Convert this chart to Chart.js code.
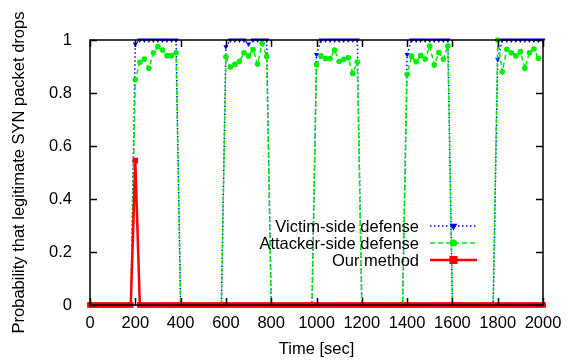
<!DOCTYPE html>
<html lang="en">
<head>
<meta charset="UTF-8">
<title>Legitimate SYN packet drops</title>
<script src="https://cdn.jsdelivr.net/npm/chart.js"></script>
<style>
  html, body { margin: 0; padding: 0; background: #fff; }
  #wrap { width: 576px; height: 360px; }
</style>
</head>
<body>
<div id="wrap"><canvas id="chart" width="576" height="360"></canvas></div>
<script>
// time axis, one sample every 20 s
const times = [
  0, 20, 40, 60, 80, 100, 120, 140, 160, 180,
  200, 220, 240, 260, 280, 300, 320, 340, 360, 380,
  400, 420, 440, 460, 480, 500, 520, 540, 560, 580,
  600, 620, 640, 660, 680, 700, 720, 740, 760, 780,
  800, 820, 840, 860, 880, 900, 920, 940, 960, 980,
  1000, 1020, 1040, 1060, 1080, 1100, 1120, 1140, 1160, 1180,
  1200, 1220, 1240, 1260, 1280, 1300, 1320, 1340, 1360, 1380,
  1400, 1420, 1440, 1460, 1480, 1500, 1520, 1540, 1560, 1580,
  1600, 1620, 1640, 1660, 1680, 1700, 1720, 1740, 1760, 1780,
  1800, 1820, 1840, 1860, 1880, 1900, 1920, 1940, 1960, 1980,
  2000
];

const victimSide = [
  0, 0, 0, 0, 0, 0, 0, 0, 0, 0,
  0.985, 1, 1, 1, 1, 1, 1, 1, 1, 1,
  0, 0, 0, 0, 0, 0, 0, 0, 0, 0,
  0.975, 1, 1, 1, 1, 0.985, 1, 1, 1, 1,
  0, 0, 0, 0, 0, 0, 0, 0, 0, 0,
  0.945, 1, 1, 1, 1, 1, 1, 1, 1, 1,
  0, 0, 0, 0, 0, 0, 0, 0, 0, 0,
  0.945, 1, 1, 1, 1, 1, 1, 1, 1, 1,
  0, 0, 0, 0, 0, 0, 0, 0, 0, 0,
  0.927, 1, 1, 1, 1, 1, 1, 1, 1, 1,
  1
];

const attackerSide = [
  0, 0, 0, 0, 0, 0, 0, 0, 0, 0,
  0.85, 0.916, 0.928, 0.893, 0.952, 0.975, 0.962, 0.941, 0.941, 0.952,
  0, 0, 0, 0, 0, 0, 0, 0, 0, 0,
  0.937, 0.898, 0.908, 0.92, 0.952, 0.94, 0.964, 0.909, 0.987, 0.938,
  0, 0, 0, 0, 0, 0, 0, 0, 0, 0,
  0.907, 0.94, 0.93, 0.93, 0.962, 0.919, 0.927, 0.933, 0.874, 0.917,
  0, 0, 0, 0, 0, 0, 0, 0, 0, 0,
  0.871, 0.939, 0.918, 0.941, 0.928, 0.977, 0.906, 0.953, 0.928, 0.977,
  0, 0, 0, 0, 0, 0, 0, 0, 0, 0,
  1, 0.88, 0.965, 0.952, 0.94, 0.956, 0.893, 0.952, 0.966, 0.931,
  null
];

const ourMethod = [
  0, 0, 0, 0, 0, 0, 0, 0, 0, 0,
  0.545, 0, 0, 0, 0, 0, 0, 0, 0, 0,
  0, 0, 0, 0, 0, 0, 0, 0, 0, 0,
  0, 0, 0, 0, 0, 0, 0, 0, 0, 0,
  0, 0, 0, 0, 0, 0, 0, 0, 0, 0,
  0, 0, 0, 0, 0, 0, 0, 0, 0, 0,
  0, 0, 0, 0, 0, 0, 0, 0, 0, 0,
  0, 0, 0, 0, 0, 0, 0, 0, 0, 0,
  0, 0, 0, 0, 0, 0, 0, 0, 0, 0,
  0, 0, 0, 0, 0, 0, 0, 0, 0, 0,
  0
];

const seriesNames = ['Victim-side defense', 'Attacker-side defense', 'Our method'];

const FONT = 'Liberation Sans, Arial, Helvetica, sans-serif';
const FSIZE = 16.5;

function toPoints(vals) {
  return times.map((t, i) => ({ x: t, y: vals[i] }));
}

// gnuplot style border with inward ticks on all four sides, plus a key in the plot
const gnuplotLook = {
  id: 'gnuplotLook',
  afterDatasetsDraw(chart) {
    const { ctx, chartArea: a, scales: { x, y } } = chart;
    const tl = 7;
    ctx.save();
    ctx.strokeStyle = '#000';
    ctx.lineWidth = 1.5;
    ctx.beginPath();
    x.ticks.forEach(t => {
      const px = Math.round(x.getPixelForValue(t.value)) + 0.5;
      ctx.moveTo(px, a.bottom); ctx.lineTo(px, a.bottom - tl);
      ctx.moveTo(px, a.top); ctx.lineTo(px, a.top + tl);
    });
    y.ticks.forEach(t => {
      const py = Math.round(y.getPixelForValue(t.value)) + 0.5;
      ctx.moveTo(a.left, py); ctx.lineTo(a.left + tl, py);
      ctx.moveTo(a.right, py); ctx.lineTo(a.right - tl, py);
    });
    ctx.stroke();
    ctx.strokeRect(a.left, a.top, a.right - a.left, a.bottom - a.top);

    // key
    const textRight = a.right - 124;
    const lineL = a.right - 113, lineR = a.right - 66;
    const top = a.top + 186, step = 17;
    ctx.font = FSIZE + 'px ' + FONT;
    ctx.textAlign = 'right';
    ctx.textBaseline = 'middle';
    chart.data.datasets.forEach((ds, i) => {
      const yy = top + i * step;
      ctx.fillStyle = '#000';
      ctx.fillText(seriesNames[i], textRight, yy + 1);
      ctx.strokeStyle = ds.borderColor;
      ctx.lineWidth = ds.borderWidth;
      ctx.setLineDash(ds.borderDash || []);
      ctx.beginPath();
      ctx.moveTo(lineL, yy); ctx.lineTo(lineR, yy);
      ctx.stroke();
      ctx.setLineDash([]);
      Chart.helpers.drawPoint(ctx, {
        pointStyle: ds.pointStyle,
        radius: ds.pointRadius,
        rotation: ds.pointRotation || 0,
        borderWidth: 1
      }, (lineL + lineR) / 2, yy);
      ctx.fillStyle = ds.pointBackgroundColor;
      ctx.fill();
    });
    ctx.restore();
  }
};

new Chart(document.getElementById('chart'), {
  type: 'line',
  data: {
    datasets: [
      {
        label: seriesNames[0],
        data: toPoints(victimSide),
        borderColor: '#0000ff',
        borderWidth: 1.5,
        borderDash: [1.5, 2.5],
        pointStyle: 'triangle',
        pointRotation: 180,
        pointRadius: 3,
        pointBackgroundColor: '#0000ff',
        pointBorderColor: '#0000ff',
        pointBorderWidth: 0,
        order: 2
      },
      {
        label: seriesNames[1],
        data: toPoints(attackerSide),
        borderColor: '#00ee00',
        borderWidth: 1.5,
        borderDash: [5, 3],
        pointStyle: 'circle',
        pointRadius: 2.8,
        pointBackgroundColor: '#00ee00',
        pointBorderColor: '#00ee00',
        pointBorderWidth: 0,
        order: 1
      },
      {
        label: seriesNames[2],
        data: toPoints(ourMethod),
        borderColor: '#ff0000',
        borderWidth: 2.5,
        pointStyle: 'rect',
        pointRadius: 4,
        pointBackgroundColor: '#ff0000',
        pointBorderColor: '#ff0000',
        pointBorderWidth: 0,
        order: 0
      }
    ]
  },
  options: {
    responsive: false,
    animation: false,
    devicePixelRatio: 1,
    clip: false,
    spanGaps: false,
    elements: { line: { tension: 0 } },
    layout: { padding: { top: 40, right: 33, left: 0, bottom: 0 } },
    plugins: {
      legend: { display: false },
      tooltip: { enabled: false }
    },
    scales: {
      x: {
        type: 'linear',
        min: 0,
        max: 2000,
        grid: { display: false },
        border: { display: false },
        ticks: {
          stepSize: 200,
          padding: 1,
          color: '#000',
          font: { family: FONT, size: FSIZE },
          maxRotation: 0,
          callback: v => String(v)
        },
        title: {
          display: true,
          text: 'Time [sec]',
          color: '#000',
          font: { family: FONT, size: FSIZE },
          padding: { top: 0, bottom: 1 }
        },
        afterFit: s => { s.height = 55; }
      },
      y: {
        min: 0,
        max: 1,
        grid: { display: false },
        border: { display: false },
        ticks: {
          stepSize: 0.2,
          padding: 10,
          color: '#000',
          font: { family: FONT, size: FSIZE },
          callback: v => String(Number(v.toFixed(1)))
        },
        title: {
          display: true,
          text: 'Probability that legitimate SYN packet drops',
          color: '#000',
          font: { family: FONT, size: FSIZE },
          padding: { top: 10, bottom: 0 }
        },
        afterFit: s => { s.width = 90; }
      }
    }
  },
  plugins: [gnuplotLook]
});
</script>
</body>
</html>
